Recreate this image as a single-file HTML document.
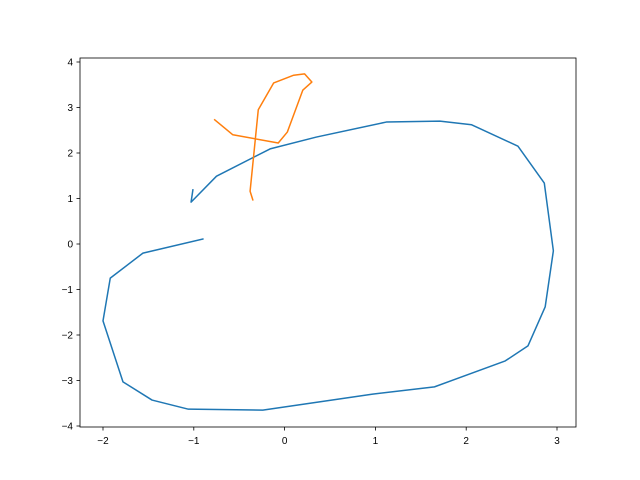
<!DOCTYPE html>
<html><head><meta charset="utf-8"><style>
body{margin:0;background:#fff}
svg{display:block;font-family:"Liberation Sans","DejaVu Sans",sans-serif}
</style></head><body>
<svg id="chart" width="640" height="480">
<rect x="0" y="0" width="640" height="480" fill="#fff"/>
<g id="plot"></g>
</svg>
<script>
const blueX=[-0.90,-1.56,-1.92,-2.0,-1.78,-1.46,-1.06,-0.24,0.97,1.65,2.43,2.68,2.87,2.96,2.86,2.57,2.06,1.71,1.12,0.35,-0.16,-0.75,-1.03,-1.01];
const blueY=[0.11,-0.20,-0.75,-1.69,-3.03,-3.43,-3.63,-3.65,-3.30,-3.14,-2.57,-2.24,-1.38,-0.15,1.34,2.15,2.62,2.70,2.68,2.35,2.09,1.49,0.92,1.19];
const orangeX=[-0.35,-0.38,-0.29,-0.12,0.10,0.22,0.30,0.20,0.03,-0.07,-0.57,-0.77];
const orangeY=[0.97,1.16,2.95,3.54,3.71,3.74,3.56,3.38,2.46,2.22,2.40,2.73];
const xTicks=[-2,-1,0,1,2,3];
const yTicks=[-4,-3,-2,-1,0,1,2,3,4];
const L=80,R=576,T=58,B=427;
function sx(v){return 103+(v+2)*90.8;}
function sy(v){return 244-v*45.5;}
const ns="http://www.w3.org/2000/svg";
const g=document.getElementById('plot');
function mk(t,a){const e=document.createElementNS(ns,t);for(const k in a)e.setAttribute(k,a[k]);g.appendChild(e);return e;}
function line(xs,ys,c,name){
  const p=mk('polyline',{points:xs.map((x,i)=>sx(x)+','+sy(ys[i])).join(' '),fill:'none',stroke:c,'stroke-width':1.5,'stroke-linejoin':'round','stroke-linecap':'square'});
  
  
}
line(blueX,blueY,'#1f77b4','series-blue');
line(orangeX,orangeY,'#ff7f0e','series-orange');
const fr=mk('rect',{x:L,y:T,width:R-L,height:B-T,fill:'none',stroke:'#000','stroke-width':0.8});


xTicks.forEach(v=>{
  const x=sx(v);
  const t=mk('line',{x1:x,x2:x,y1:B,y2:B+3.5,stroke:'#000','stroke-width':0.8});
  
  
  const l=mk('text',{x:x,y:B+17,'font-size':10,'text-anchor':'middle',fill:'#000'});
  l.textContent=v<0?'\u2212'+(-v):String(v);
  
  
});
yTicks.forEach(v=>{
  const y=sy(v);
  const t=mk('line',{x1:L-3.5,x2:L,y1:y,y2:y,stroke:'#000','stroke-width':0.8});
  
  
  const l=mk('text',{x:L-7,y:y+3.5,'font-size':10,'text-anchor':'end',fill:'#000'});
  l.textContent=v<0?'\u2212'+(-v):String(v);
  
  
});
</script>
</body></html>
